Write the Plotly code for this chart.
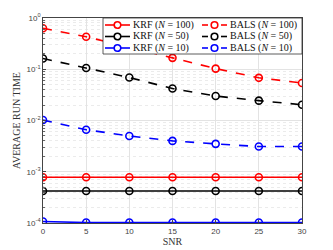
import plotly.graph_objects as go

snr = [0, 5, 10, 15, 20, 25, 30]

krf_100 = [0.00078, 0.00078, 0.00078, 0.00078, 0.00078, 0.00078, 0.00078]
krf_50 = [0.00042, 0.00042, 0.00042, 0.00042, 0.00042, 0.00042, 0.00042]
krf_10 = [0.000107, 0.000102, 0.000102, 0.000102, 0.000102, 0.000102, 0.000102]
bals_100 = [0.63, 0.43, 0.27, 0.167, 0.103, 0.068, 0.054]
bals_50 = [0.162, 0.106, 0.069, 0.042, 0.030, 0.0244, 0.0203]
bals_10 = [0.0102, 0.0066, 0.0050, 0.0040, 0.0035, 0.0031, 0.0031]

y_tickvals = [1e-4, 1e-3, 1e-2, 1e-1, 1]
y_ticktext = ["10<sup>-4</sup>", "10<sup>-3</sup>", "10<sup>-2</sup>", "10<sup>-1</sup>", "10<sup>0</sup>"]
y_minorvals = [m * 10.0 ** e for e in range(-4, 0) for m in range(2, 10)]
x_tickvals = [0, 5, 10, 15, 20, 25, 30]

series = [
    ("KRF (<i>N</i> = 100)", krf_100, "red", "solid"),
    ("BALS (<i>N</i> = 100)", bals_100, "red", "dash"),
    ("KRF (<i>N</i> = 50)", krf_50, "black", "solid"),
    ("BALS (<i>N</i> = 50)", bals_50, "black", "dash"),
    ("KRF (<i>N</i> = 10)", krf_10, "blue", "solid"),
    ("BALS (<i>N</i> = 10)", bals_10, "blue", "dash"),
]

W, H = 333, 250
ML, MR, MT, MB = 43, 31, 18, 27
PW, PH = W - ML - MR, H - MT - MB


def px(x):
    return (x - ML) / PW


def py(y):
    return (H - MB - y) / PH


fig = go.Figure()
for name, ys, color, dash in series:
    fig.add_trace(go.Scatter(
        x=snr, y=ys, name=name, mode="lines+markers", showlegend=False,
        line=dict(color=color, width=1.6, dash=dash),
        marker=dict(symbol="circle-open", size=7, color=color, line=dict(width=1.6, color=color)),
    ))

serif = "Liberation Serif"

# Manual legend (2 columns x 3 rows) to match compact layout
shapes = [dict(type="rect", xref="paper", yref="paper", x0=px(103), x1=px(302), y0=py(54), y1=py(18),
               fillcolor="white", line=dict(color="#333", width=0.8), layer="above")]
annotations = []
row_y = [25, 36.5, 48]
for i, (name, ys, color, dash) in enumerate(series):
    col = i % 2
    row = i // 2
    yy = py(row_y[row])
    if col == 0:
        x0, x1, cx, tx = 105, 130, 117.5, 131
        shapes.append(dict(type="line", xref="paper", yref="paper", x0=px(x0), x1=px(x1), y0=yy, y1=yy,
                           line=dict(color=color, width=1.6), layer="above"))
    else:
        x0, x1, cx, tx = 202, 227, 214.5, 228
        shapes.append(dict(type="line", xref="paper", yref="paper", x0=px(x0), x1=px(x0 + 6), y0=yy, y1=yy,
                           line=dict(color=color, width=1.6), layer="above"))
        shapes.append(dict(type="line", xref="paper", yref="paper", x0=px(x1 - 6), x1=px(x1), y0=yy, y1=yy,
                           line=dict(color=color, width=1.6), layer="above"))
    shapes.append(dict(type="circle", xref="paper", yref="paper", xsizemode="pixel", ysizemode="pixel",
                       xanchor=px(cx), yanchor=yy, x0=-3.3, x1=3.3, y0=-3.3, y1=3.3,
                       fillcolor="white", line=dict(color=color, width=1.6), layer="above"))
    annotations.append(dict(xref="paper", yref="paper", x=px(tx), y=yy, xanchor="left", yanchor="middle",
                            text=name, showarrow=False, font=dict(family=serif, size=10, color="#111")))

fig.update_layout(
    width=W, height=H,
    margin=dict(l=ML, r=MR, t=MT, b=MB),
    paper_bgcolor="white", plot_bgcolor="white",
    font=dict(family=serif, size=9, color="#222"),
    showlegend=False,
    shapes=shapes, annotations=annotations,
)
fig.update_xaxes(
    range=[0, 30], tickvals=x_tickvals, automargin=False,
    showline=True, linecolor="#444", linewidth=0.8, mirror=True,
    ticks="inside", ticklen=3, tickcolor="#444",
    showgrid=True, gridcolor="#e3e3e3", gridwidth=0.8, zeroline=False,
    tickfont=dict(family="Liberation Sans", size=8, color="#444"),
    title=dict(text="SNR", font=dict(family=serif, size=10, color="#333"), standoff=2),
)
fig.update_yaxes(
    type="log", range=[-4, 0], tickvals=y_tickvals, ticktext=y_ticktext, automargin=False,
    showline=True, linecolor="#444", linewidth=0.8, mirror=True,
    ticks="inside", ticklen=3, tickcolor="#444",
    showgrid=True, gridcolor="#e3e3e3", gridwidth=0.8, zeroline=False,
    minor=dict(tickvals=y_minorvals, showgrid=True, gridcolor="#ebebeb", griddash="dot",
               gridwidth=0.8, ticks="inside", ticklen=2, tickcolor="#666"),
    tickfont=dict(family="Liberation Sans", size=8, color="#444"),
    title=dict(text="AVERAGE RUN TIME", font=dict(family=serif, size=10, color="#333"), standoff=4),
)

fig.write_html("out.html", config={"displayModeBar": False},
               post_script="document.body.style.margin='0px';")
